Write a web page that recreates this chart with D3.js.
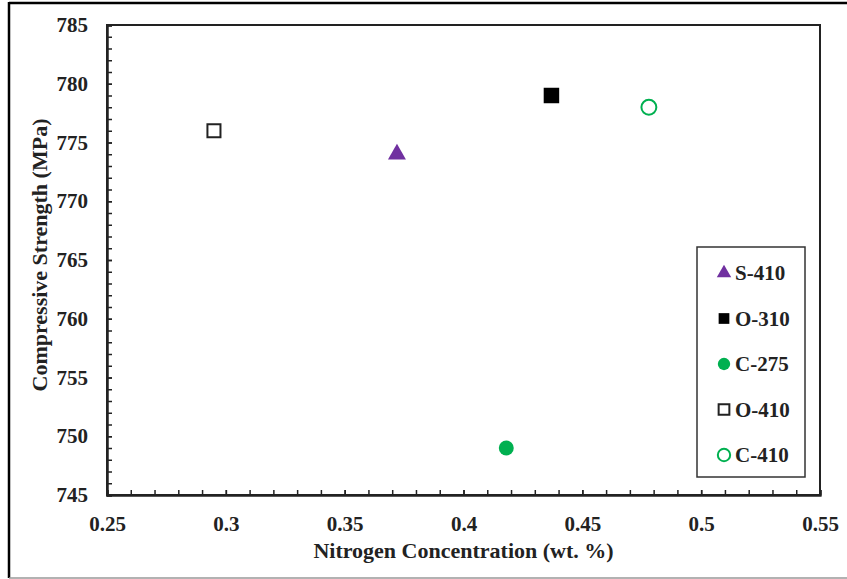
<!DOCTYPE html>
<html>
<head>
<meta charset="utf-8">
<title>Compressive Strength vs Nitrogen</title>
<script src="https://d3js.org/d3.v7.min.js"></script>
<style>
  body { margin: 0; background: #fff; }
  svg text { font-family: "Liberation Serif", "Times New Roman", serif; font-weight: bold; fill: #222; }
  .axis path { stroke: #222; stroke-width: 2; }
  .axis line { stroke: #222; stroke-width: 1.5; }
</style>
</head>
<body>
<div id="chart"></div>
<script>
// data
var names = ["S-410", "O-310", "C-275", "O-410", "C-410"];
var nitrogen = [0.372, 0.437, 0.418, 0.295, 0.478];
var strength = [774, 779, 749, 776, 778];
var colors = ["#7030A0", "#000000", "#00B050", "#222222", "#00B050"];
var shapes = ["triangle", "square", "circle", "square", "circle"];
var filled = [true, true, true, false, false];
var xTicks = [0.25, 0.3, 0.35, 0.4, 0.45, 0.5, 0.55];
var yTicks = [745, 750, 755, 760, 765, 770, 775, 780, 785];

var W = 847, H = 579;
var margin = {top: 25, right: 27, bottom: 84, left: 107};
var width = W - margin.left - margin.right,
    height = H - margin.top - margin.bottom;

var svg = d3.select("#chart").append("svg")
    .attr("width", W).attr("height", H);

// outer frame
svg.append("line").attr("x1", 9).attr("x2", W).attr("y1", 3).attr("y2", 3)
    .attr("stroke", "#000").attr("stroke-width", 2.5);
svg.append("line").attr("x1", 9).attr("x2", 9).attr("y1", 2).attr("y2", 578)
    .attr("stroke", "#000").attr("stroke-width", 2.5);
svg.append("line").attr("x1", 9).attr("x2", W).attr("y1", 578).attr("y2", 578)
    .attr("stroke", "#999").attr("stroke-width", 1.5);

var g = svg.append("g").attr("transform", "translate(" + margin.left + "," + margin.top + ")");

var x = d3.scaleLinear().domain([0.25, 0.55]).range([0, width]);
var y = d3.scaleLinear().domain([745, 785]).range([height, 0]);

// minor ticks
g.append("g").attr("class", "axis")
    .attr("transform", "translate(0," + height + ")")
    .call(d3.axisBottom(x).tickValues(d3.range(25, 56).map(function(d) { return d / 100; }))
        .tickSize(-5).tickFormat(""));
g.append("g").attr("class", "axis")
    .call(d3.axisLeft(y).tickValues(d3.range(745, 786)).tickSize(-5).tickFormat(""));

// major axes with labels
var xAxis = g.append("g").attr("class", "axis")
    .attr("transform", "translate(0," + height + ")")
    .call(d3.axisBottom(x).tickValues(xTicks).tickSize(-5).tickPadding(21)
        .tickFormat(function(d) { return d3.format("")(+d.toFixed(2)); }));
xAxis.selectAll("text").style("font-size", "21px");

var yAxis = g.append("g").attr("class", "axis")
    .call(d3.axisLeft(y).tickValues(yTicks).tickSize(-5).tickPadding(19));
yAxis.selectAll("text").style("font-size", "21px");

// plot frame
g.append("rect").attr("width", width).attr("height", height)
    .attr("fill", "none").attr("stroke", "#222").attr("stroke-width", 2);

// axis titles
svg.append("text")
    .attr("x", margin.left + width / 2).attr("y", 558)
    .attr("text-anchor", "middle").style("font-size", "22px")
    .text("Nitrogen Concentration (wt. %)");
svg.append("text")
    .attr("transform", "translate(47," + (margin.top + height / 2 - 5) + ") rotate(-90)")
    .attr("text-anchor", "middle").style("font-size", "22px")
    .text("Compressive Strength (MPa)");

function symbolFor(s) {
    return s === "triangle" ? d3.symbolTriangle : s === "square" ? d3.symbolSquare : d3.symbolCircle;
}
function drawMark(sel, i, size) {
    var open = !filled[i];
    sel.append("path")
        .attr("d", d3.symbol().type(symbolFor(shapes[i])).size(size)())
        .attr("fill", open ? "#fff" : colors[i])
        .attr("stroke", open ? colors[i] : "none")
        .attr("stroke-width", open ? 2 : 0);
}

// points
names.forEach(function(n, i) {
    var p = g.append("g")
        .attr("transform", "translate(" + x(nitrogen[i]) + "," + y(strength[i]) + ")");
    var sz = shapes[i] === "triangle" ? 140 : shapes[i] === "square" ? (filled[i] ? 240 : 170) : 175;
    drawMark(p, i, sz);
});

// legend
var lg = svg.append("g").attr("transform", "translate(697,247)");
lg.append("rect").attr("width", 108).attr("height", 230)
    .attr("fill", "#fff").attr("stroke", "#333").attr("stroke-width", 1.5);
names.forEach(function(n, i) {
    var row = lg.append("g").attr("transform", "translate(27," + (26 + i * 45.5) + ")");
    var sz = shapes[i] === "triangle" ? 90 : shapes[i] === "square" ? 115 : 120;
    drawMark(row, i, sz);
    row.append("text").attr("x", 11).attr("dy", "0.35em")
        .style("font-size", "21px").text(n);
});
</script>
</body>
</html>
